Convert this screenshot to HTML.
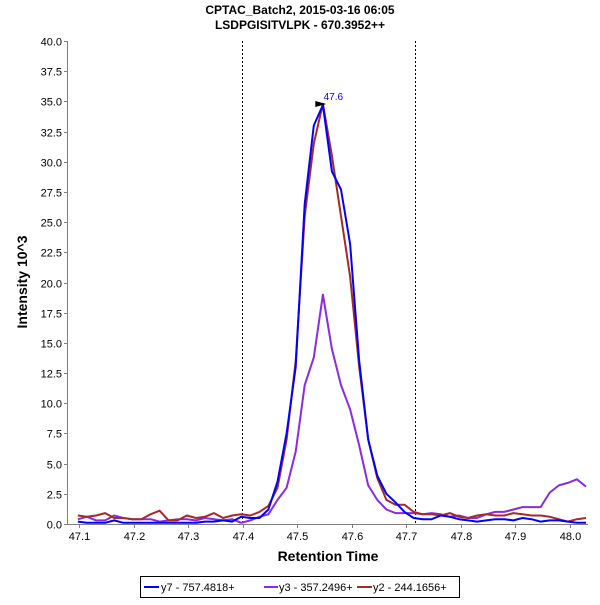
<!DOCTYPE html>
<html><head><meta charset="utf-8"><style>
body{margin:0;background:#fff;font-family:"Liberation Sans",sans-serif}
svg text{font-family:"Liberation Sans",sans-serif}
</style></head><body>
<svg id="c" width="600" height="600" xmlns="http://www.w3.org/2000/svg">
<text x="300" y="14" text-anchor="middle" font-size="12" font-weight="bold">CPTAC_Batch2, 2015-03-16 06:05</text>
<text x="300" y="29" text-anchor="middle" font-size="12" font-weight="bold">LSDPGISITVLPK - 670.3952++</text>
<g id="axes"></g>
<g id="series"></g>
<text x="328" y="561" text-anchor="middle" font-size="14" font-weight="bold">Retention Time</text>
<text transform="translate(27,282) rotate(-90)" text-anchor="middle" font-size="14" font-weight="bold">Intensity 10^3</text>
<g>
<rect x="140.5" y="576.5" width="319" height="21" fill="#fff" stroke="#000"/>
<g><line x1="144" y1="587" x2="159" y2="587" stroke="#0000ff" stroke-width="2"/><text x="161" y="591" font-size="11">y7 - 757.4818+</text></g>
<g><line x1="264" y1="587" x2="278" y2="587" stroke="#8a2be2" stroke-width="2"/><text x="279" y="591" font-size="11">y3 - 357.2496+</text></g>
<g><line x1="357" y1="587" x2="372" y2="587" stroke="#a52a2a" stroke-width="2"/><text x="373" y="591" font-size="11">y2 - 244.1656+</text></g>
</g>
</svg>
<script>
const t0 = 47.098, tStep = 0.01663;
const y7 = [0.2,0.1,0.1,0.1,0.3,0.1,0.1,0.1,0.1,0.1,0.1,0.1,0.1,0.1,0.2,0.2,0.3,0.2,0.6,0.5,0.5,1.2,3.5,7.5,13.0,26.5,33.0,34.7,29.2,27.7,23.2,13.5,7.0,4.0,2.5,1.8,1.0,0.5,0.4,0.4,0.7,0.6,0.4,0.3,0.2,0.3,0.4,0.4,0.3,0.5,0.4,0.2,0.3,0.3,0.2,0.1,0.1];
const y3 = [0.4,0.6,0.3,0.3,0.7,0.5,0.4,0.4,0.4,0.2,0.3,0.4,0.4,0.3,0.5,0.4,0.3,0.4,0.1,0.3,0.6,0.8,2.0,3.0,6.0,11.5,13.8,19.0,14.5,11.5,9.5,6.5,3.2,2.0,1.2,0.9,0.9,0.9,0.8,0.9,0.8,0.6,0.7,0.5,0.5,0.8,1.0,1.0,1.2,1.4,1.4,1.4,2.6,3.2,3.4,3.7,3.1];
const y2 = [0.7,0.6,0.7,0.9,0.5,0.5,0.4,0.4,0.8,1.1,0.3,0.3,0.7,0.5,0.6,0.9,0.5,0.7,0.8,0.7,1.0,1.5,3.0,7.0,13.5,25.5,31.5,34.8,30.5,25.5,20.5,13.0,7.0,3.8,2.0,1.6,1.6,1.0,0.8,0.8,0.7,0.9,0.6,0.5,0.7,0.8,0.7,0.7,0.9,0.8,0.7,0.7,0.6,0.4,0.2,0.4,0.5];
const xTicks = [47.1,47.2,47.3,47.4,47.5,47.6,47.7,47.8,47.9,48.0];
const yTicks = [0,2.5,5,7.5,10,12.5,15,17.5,20,22.5,25,27.5,30,32.5,35,37.5,40];
const markers = [47.399,47.716];
const peakTime = 47.557, peakVal = 34.7, peakLabel = "47.6";

const L=67,R=588,T=41,B=524;
const xs=t=>79+(t-47.1)*(570-79)/0.9;
const ys=v=>B-(v/40)*(B-T);
const NS="http://www.w3.org/2000/svg";
function mk(tag,attrs,parent,txt){const e=document.createElementNS(NS,tag);for(const k in attrs)e.setAttribute(k,attrs[k]);if(txt!==undefined)e.textContent=txt;parent.appendChild(e);return e;}
const ax=document.getElementById('axes');
const yl=mk('line',{x1:L+.5,y1:T,x2:L+.5,y2:B+1,stroke:'#808080'},ax);


const xl=mk('line',{x1:L,y1:B+.5,x2:R,y2:B+.5,stroke:'#808080'},ax);


yTicks.forEach(v=>{const y=Math.round(ys(v))+.5;
mk('line',{x1:L-3,y1:y,x2:L,y2:y,stroke:'#808080'},ax);
const t=mk('text',{x:L-5,y:y+4,'text-anchor':'end','font-size':11},ax,v.toFixed(1));

});
xTicks.forEach(v=>{const x=Math.round(xs(v))+.5;
mk('line',{x1:x,y1:B+1,x2:x,y2:B+4,stroke:'#808080'},ax);
const t=mk('text',{x:x,y:B+16,'text-anchor':'middle','font-size':11},ax,v.toFixed(1));

});
markers.forEach(m=>{const x=Math.round(xs(m))+.5;
const l=mk('line',{x1:x,y1:T,x2:x,y2:B,stroke:'#000','stroke-dasharray':'2,2'},ax);

});
const sg=document.getElementById('series');
[[y3,'#8a2be2','series-y3'],[y2,'#a52a2a','series-y2'],[y7,'#0000ff','series-y7']].forEach(([d,c,n])=>{
const pts=d.map((v,i)=>xs(t0+i*tStep).toFixed(1)+','+ys(v).toFixed(1)).join(' ');
const p=mk('polyline',{points:pts,fill:'none',stroke:c,'stroke-width':2,'stroke-linejoin':'round'},sg);

});
const px=xs(peakTime),py=ys(peakVal);
const ar=mk('polygon',{points:`${px-2},${py-1} ${px-13},${py-4} ${px-13},${py+2}`,fill:'#000'},sg);


const pl=mk('text',{x:px+5,y:py-5,'text-anchor':'middle','font-size':10,fill:'#0000ff'},sg,peakLabel);


</script>
</body></html>
